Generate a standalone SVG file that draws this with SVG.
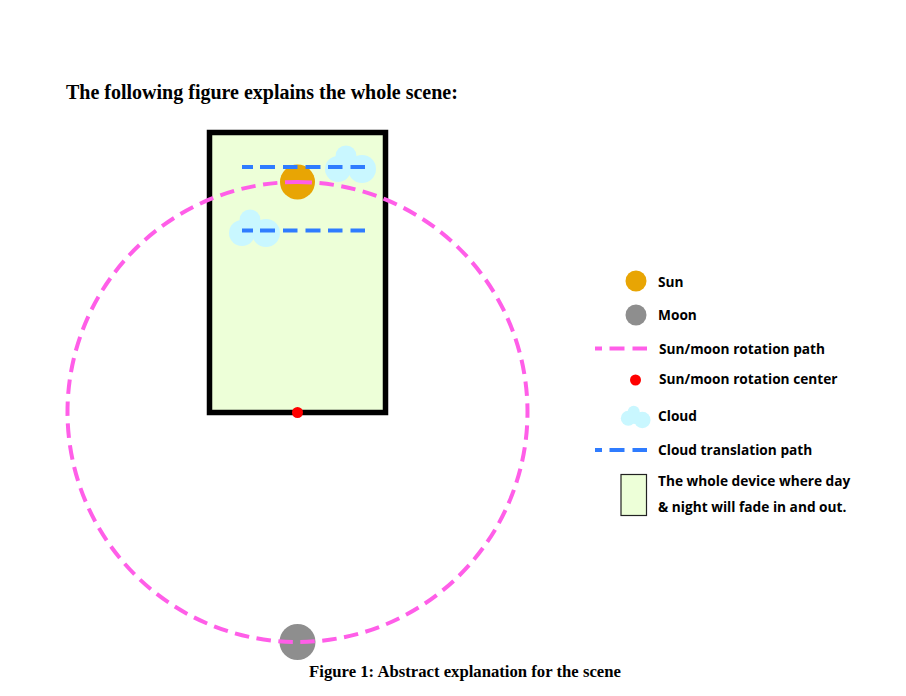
<svg xmlns="http://www.w3.org/2000/svg" width="906" height="696" viewBox="0 0 906 696">
<style>
.serif{font-family:"Liberation Serif","Times New Roman",serif;font-weight:700;fill:#000}
.leg{font-family:"Open Sans","Noto Sans",sans-serif;font-weight:700;font-size:13.7px;fill:#000}
.cloud{fill:#c9f7ff}
.pink{fill:none;stroke:#ff5ee8;stroke-width:4}
.blue{fill:none;stroke:#2f7cff;stroke-width:4}
</style>
<defs>
<g id="cloudShape" class="cloud"><circle cx="-11" cy="3" r="13"/><circle cx="13" cy="3" r="14"/><circle cx="-3" cy="-10" r="10.5"/></g>
</defs>
<rect width="906" height="696" fill="#fff"/>
<text class="serif" x="66" y="99" font-size="20">The following figure explains the whole scene:</text>
<g id="device"><rect x="209.500" y="132.500" width="176" height="280" fill="#edffd8" stroke="#000" stroke-width="5.500"/></g>
<g id="sun"><circle cx="297.500" cy="182" r="17.500" fill="#e8a504"/></g>
<g id="moon"><circle cx="297.500" cy="642" r="18" fill="#8e8e8e"/></g>
<g id="cloud-top"><use href="#cloudShape" x="349" y="166"/></g>
<g id="cloud-low"><use href="#cloudShape" x="253" y="230"/></g>
<g id="connectors">
<circle class="pink" cx="297.500" cy="412" r="230" stroke-dasharray="14.500 7.530" transform="rotate(-90 297.500 412)"/>
<path class="blue" d="M242 167H365" stroke-dasharray="11 7 15 8 14.500 8 15 7.500 14.500 8 15"/>
<path class="blue" d="M242 230.500H365" stroke-dasharray="11 7 15 8 14.500 8 15 7.500 14.500 8 15"/>
</g>
<g id="center"><circle cx="297.500" cy="412.500" r="5.500" fill="#ff0000"/></g>
<g id="legend-sun"><circle cx="636" cy="281" r="10.500" fill="#e8a504"/><text class="leg" x="658" y="287">Sun</text></g>
<g id="legend-moon"><circle cx="636" cy="315" r="10.500" fill="#8e8e8e"/><text class="leg" x="658" y="320">Moon</text></g>
<g id="legend-path"><path class="pink" d="M595 348.500H647" stroke-dasharray="7 7.500 15 8 15"/><text class="leg" x="659" y="354">Sun/moon rotation path</text></g>
<g id="legend-center"><circle cx="635.500" cy="380" r="5.500" fill="#ff0000"/><text class="leg" x="659" y="384">Sun/moon rotation center</text></g>
<g id="legend-cloud"><g class="cloud"><circle cx="628.300" cy="418.300" r="7.500"/><circle cx="642.300" cy="420" r="8.300"/><circle cx="633.700" cy="411.700" r="6"/><circle cx="635" cy="418" r="6"/></g><text class="leg" x="658" y="421">Cloud</text></g>
<g id="legend-translation"><path class="blue" d="M595 450H647" stroke-dasharray="7 7.500 15 8 15"/><text class="leg" x="658" y="455">Cloud translation path</text></g>
<g id="legend-device"><rect x="621" y="474.500" width="25.500" height="41" fill="#edffd8" stroke="#222" stroke-width="1.200"/><text class="leg" x="658" y="486">The whole device where day</text><text class="leg" x="658" y="512">&amp; night will fade in and out.</text></g>
<text class="serif" x="465" y="677" font-size="16.700" text-anchor="middle">Figure 1: Abstract explanation for the scene</text>
</svg>
